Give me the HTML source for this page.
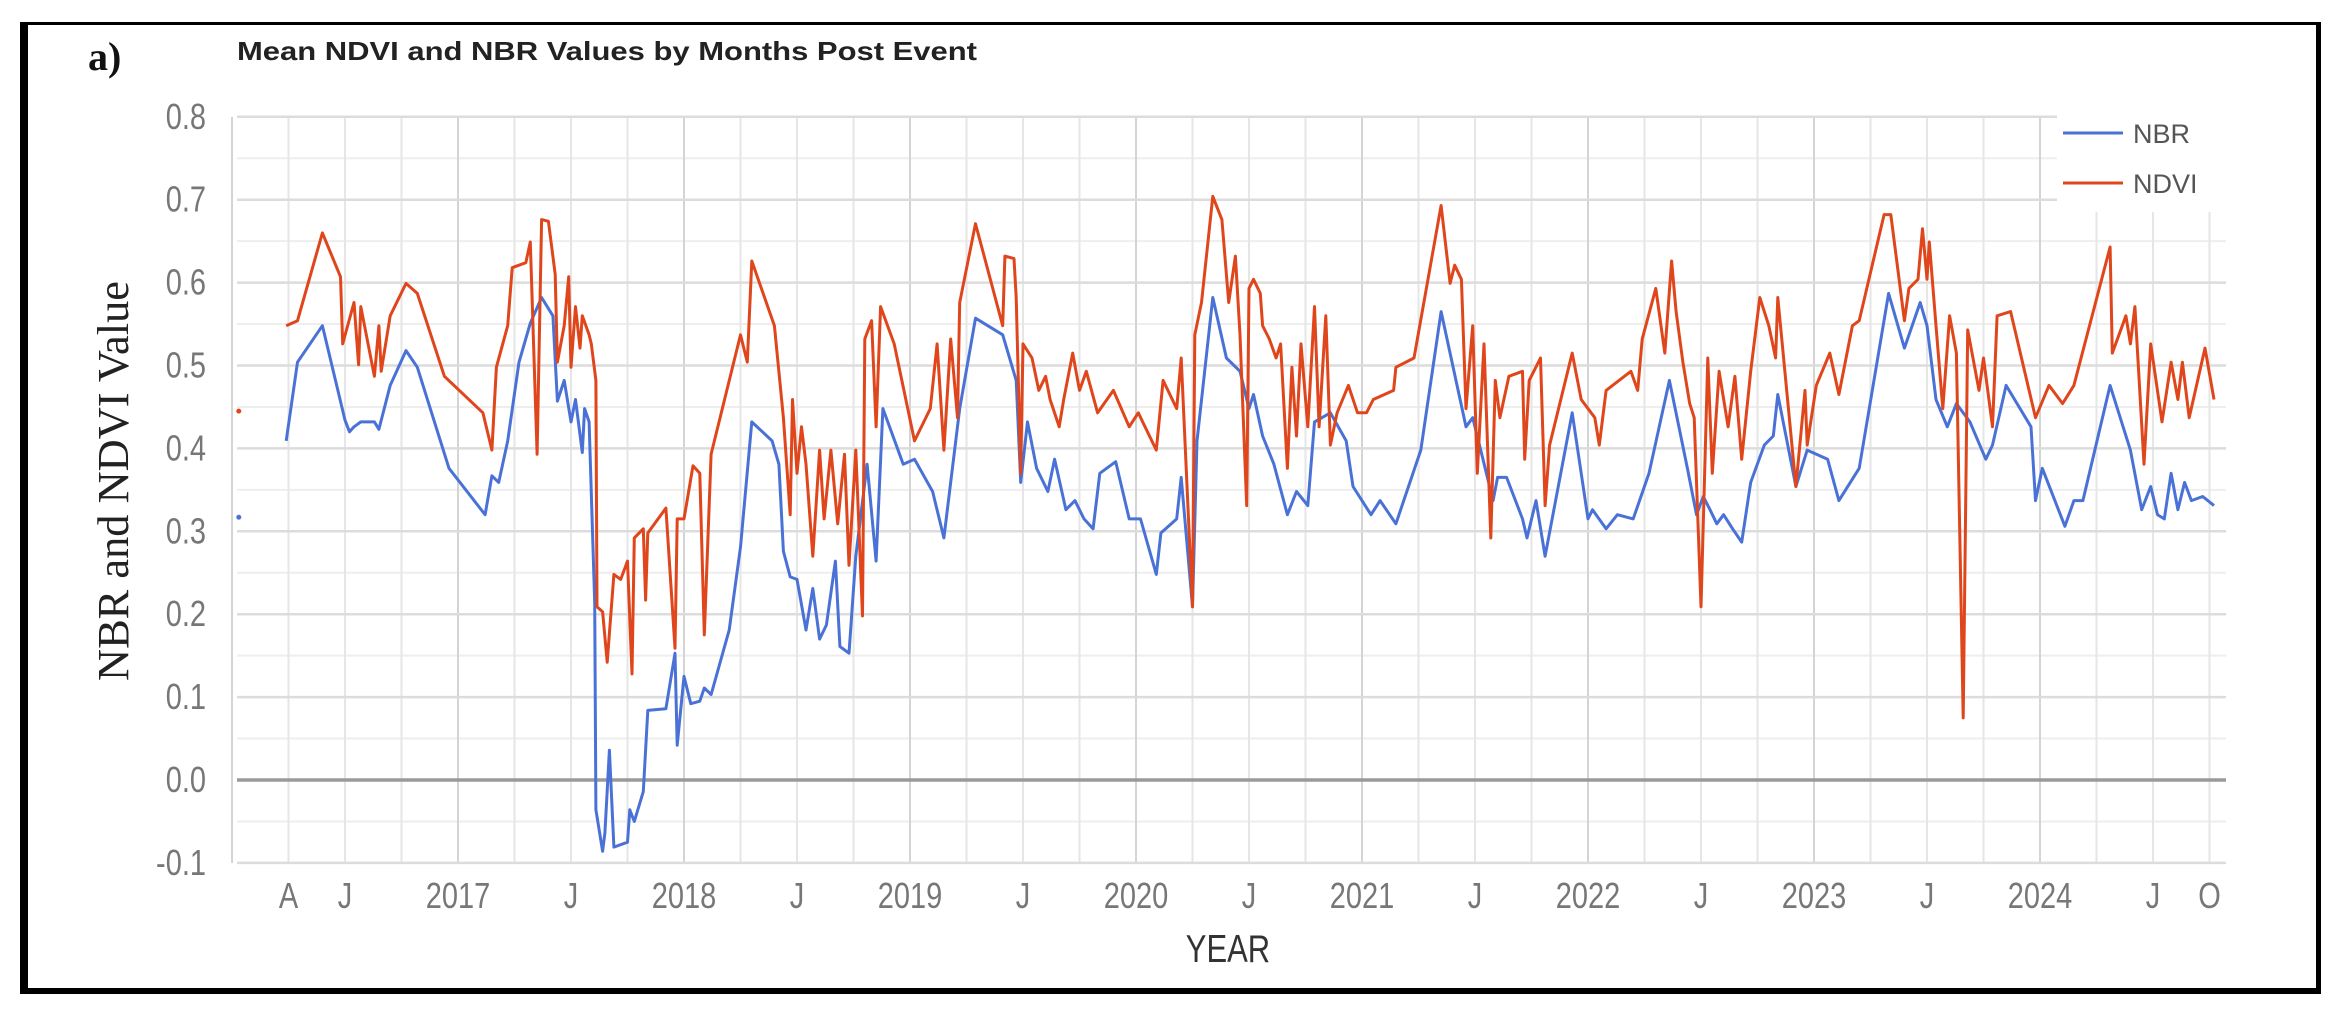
<!DOCTYPE html>
<html><head><meta charset="utf-8"><title>Mean NDVI and NBR Values</title>
<style>
html,body{margin:0;padding:0;background:#fff;}
svg{display:block;}
</style></head>
<body>
<svg id="chart" width="2325" height="1011" viewBox="0 0 2325 1011" xmlns="http://www.w3.org/2000/svg">
  <rect x="0" y="0" width="2325" height="1011" fill="#fff"/>
  <g>
    <rect x="20" y="22" width="2301" height="3" fill="#000"/>
    <rect x="20" y="22" width="8" height="972" fill="#000"/>
    <rect x="2316" y="22" width="5" height="972" fill="#000"/>
    <rect x="20" y="988" width="2301" height="6" fill="#000"/>
  </g>
  <text x="88" y="70" font-family="Liberation Serif, serif" font-weight="bold" font-size="40" fill="#111">a)</text>
  <text x="237" y="60" font-family="Liberation Sans, sans-serif" font-weight="bold" font-size="26" fill="#222" textLength="740" lengthAdjust="spacingAndGlyphs">Mean NDVI and NBR Values by Months Post Event</text>
  <g id="grid"></g>
  <g id="yticks"></g>
  <g id="xticks"></g>
  <g id="series"></g>
  <g>
    <rect x="2057" y="100" width="170" height="112" fill="#fff"/>
    <g>
      <line x1="2063" y1="133" x2="2123" y2="133" stroke="#4a72d6" stroke-width="3"/>
      <text x="2133" y="143" font-family="Liberation Sans, sans-serif" font-size="27" fill="#555">NBR</text>
    </g>
    <g>
      <line x1="2063" y1="183" x2="2123" y2="183" stroke="#e0461c" stroke-width="3"/>
      <text x="2133" y="193" font-family="Liberation Sans, sans-serif" font-size="27" fill="#555">NDVI</text>
    </g>
  </g>
  <text transform="translate(128,481) rotate(-90)" text-anchor="middle" font-family="Liberation Serif, serif" font-size="44" fill="#222" textLength="400" lengthAdjust="spacingAndGlyphs">NBR and NDVI Value</text>
  <text transform="translate(1228,962) scale(1,1.25)" text-anchor="middle" font-family="Liberation Sans, sans-serif" font-size="31" fill="#333">YEAR</text>
</svg>
<script>
// ---- data ----
const yTicks = [-0.1, 0, 0.1, 0.2, 0.3, 0.4, 0.5, 0.6, 0.7, 0.8];
const xTickLabels = ["A","J","2017","J","2018","J","2019","J","2020","J","2021","J","2022","J","2023","J","2024","J","O"];
const xTickDates = [2016.25,2016.5,2017,2017.5,2018,2018.5,2019,2019.5,2020,2020.5,2021,2021.5,2022,2022.5,2023,2023.5,2024,2024.5,2024.75];
const isolatedDates = [2016.03];
const isolatedNDVI = [0.445];
const isolatedNBR = [0.317];
const ndviDates = [2016.24,2016.29,2016.40,2016.48,2016.49,2016.54,2016.56,2016.57,2016.63,2016.65,2016.66,2016.70,2016.77,2016.82,2016.94,2017.11,2017.15,2017.17,2017.22,2017.24,2017.30,2017.32,2017.35,2017.37,2017.40,2017.43,2017.44,2017.47,2017.49,2017.50,2017.52,2017.54,2017.55,2017.58,2017.59,2017.61,2017.615,2017.64,2017.66,2017.69,2017.72,2017.75,2017.77,2017.78,2017.82,2017.83,2017.84,2017.92,2017.96,2017.97,2018.00,2018.04,2018.07,2018.09,2018.12,2018.25,2018.28,2018.30,2018.40,2018.44,2018.47,2018.48,2018.50,2018.52,2018.54,2018.57,2018.60,2018.62,2018.65,2018.68,2018.71,2018.73,2018.76,2018.79,2018.80,2018.83,2018.85,2018.87,2018.93,2019.02,2019.09,2019.12,2019.15,2019.18,2019.21,2019.22,2019.29,2019.41,2019.42,2019.46,2019.47,2019.49,2019.50,2019.54,2019.57,2019.60,2019.62,2019.66,2019.68,2019.72,2019.75,2019.78,2019.83,2019.90,2019.97,2020.01,2020.09,2020.12,2020.18,2020.20,2020.25,2020.26,2020.29,2020.34,2020.38,2020.41,2020.44,2020.46,2020.49,2020.50,2020.52,2020.55,2020.56,2020.59,2020.62,2020.64,2020.67,2020.69,2020.71,2020.73,2020.76,2020.79,2020.81,2020.84,2020.86,2020.89,2020.94,2020.98,2021.02,2021.05,2021.14,2021.15,2021.23,2021.35,2021.39,2021.41,2021.44,2021.46,2021.49,2021.51,2021.54,2021.57,2021.59,2021.61,2021.65,2021.71,2021.72,2021.74,2021.79,2021.81,2021.83,2021.93,2021.97,2022.03,2022.05,2022.08,2022.19,2022.22,2022.24,2022.30,2022.34,2022.37,2022.39,2022.42,2022.45,2022.47,2022.50,2022.53,2022.55,2022.58,2022.62,2022.65,2022.68,2022.72,2022.76,2022.80,2022.83,2022.84,2022.92,2022.96,2022.97,2023.01,2023.07,2023.11,2023.17,2023.20,2023.31,2023.34,2023.40,2023.42,2023.46,2023.48,2023.50,2023.51,2023.54,2023.57,2023.60,2023.63,2023.66,2023.68,2023.73,2023.75,2023.79,2023.81,2023.87,2023.98,2024.04,2024.10,2024.15,2024.31,2024.32,2024.38,2024.40,2024.42,2024.46,2024.49,2024.54,2024.58,2024.61,2024.63,2024.66,2024.73,2024.77];
const ndviValues = [0.548,0.554,0.66,0.607,0.526,0.576,0.501,0.571,0.487,0.548,0.493,0.56,0.599,0.587,0.487,0.443,0.398,0.498,0.548,0.618,0.624,0.649,0.393,0.676,0.674,0.61,0.504,0.548,0.607,0.498,0.571,0.521,0.56,0.537,0.526,0.482,0.209,0.203,0.142,0.248,0.242,0.264,0.128,0.292,0.303,0.217,0.298,0.328,0.159,0.315,0.315,0.379,0.37,0.175,0.393,0.537,0.504,0.626,0.548,0.437,0.32,0.459,0.37,0.426,0.381,0.27,0.398,0.315,0.398,0.309,0.393,0.259,0.398,0.198,0.532,0.554,0.426,0.571,0.526,0.409,0.448,0.526,0.398,0.532,0.437,0.576,0.671,0.548,0.632,0.629,0.582,0.37,0.526,0.509,0.47,0.487,0.459,0.426,0.459,0.515,0.47,0.493,0.443,0.47,0.426,0.443,0.398,0.482,0.448,0.509,0.209,0.537,0.576,0.704,0.676,0.576,0.632,0.537,0.331,0.593,0.604,0.587,0.548,0.532,0.509,0.526,0.376,0.498,0.415,0.526,0.426,0.571,0.426,0.56,0.404,0.443,0.476,0.443,0.443,0.459,0.47,0.498,0.509,0.693,0.599,0.621,0.604,0.448,0.548,0.37,0.526,0.292,0.482,0.437,0.487,0.493,0.387,0.482,0.509,0.331,0.404,0.515,0.459,0.437,0.404,0.47,0.493,0.47,0.532,0.593,0.515,0.626,0.565,0.504,0.454,0.437,0.209,0.509,0.37,0.493,0.426,0.487,0.387,0.493,0.582,0.548,0.509,0.582,0.354,0.47,0.404,0.476,0.515,0.465,0.548,0.554,0.682,0.682,0.554,0.593,0.604,0.665,0.604,0.649,0.548,0.448,0.56,0.515,0.075,0.543,0.47,0.509,0.426,0.56,0.565,0.437,0.476,0.454,0.476,0.643,0.515,0.56,0.526,0.571,0.381,0.526,0.432,0.504,0.459,0.504,0.437,0.521,0.459];
const nbrDates = [2016.24,2016.29,2016.40,2016.50,2016.52,2016.54,2016.57,2016.63,2016.65,2016.70,2016.77,2016.82,2016.96,2017.12,2017.15,2017.18,2017.22,2017.27,2017.32,2017.37,2017.42,2017.44,2017.47,2017.50,2017.52,2017.55,2017.56,2017.58,2017.605,2017.61,2017.64,2017.65,2017.67,2017.69,2017.75,2017.76,2017.78,2017.82,2017.84,2017.92,2017.96,2017.97,2018.00,2018.03,2018.07,2018.09,2018.12,2018.20,2018.25,2018.30,2018.39,2018.42,2018.44,2018.47,2018.50,2018.54,2018.57,2018.60,2018.63,2018.67,2018.69,2018.73,2018.76,2018.81,2018.85,2018.88,2018.97,2019.02,2019.10,2019.15,2019.22,2019.29,2019.41,2019.47,2019.49,2019.52,2019.56,2019.61,2019.64,2019.69,2019.73,2019.77,2019.81,2019.84,2019.91,2019.97,2020.02,2020.09,2020.11,2020.18,2020.20,2020.25,2020.27,2020.34,2020.40,2020.46,2020.50,2020.52,2020.56,2020.61,2020.67,2020.71,2020.76,2020.79,2020.86,2020.93,2020.96,2021.04,2021.08,2021.15,2021.26,2021.35,2021.46,2021.49,2021.52,2021.58,2021.60,2021.64,2021.71,2021.73,2021.77,2021.81,2021.93,2022.00,2022.02,2022.08,2022.13,2022.20,2022.27,2022.36,2022.44,2022.48,2022.51,2022.54,2022.57,2022.60,2022.64,2022.68,2022.72,2022.78,2022.82,2022.84,2022.92,2022.97,2023.06,2023.11,2023.20,2023.33,2023.40,2023.47,2023.50,2023.54,2023.59,2023.63,2023.69,2023.76,2023.79,2023.85,2023.96,2023.98,2024.01,2024.11,2024.15,2024.19,2024.31,2024.40,2024.45,2024.49,2024.52,2024.55,2024.58,2024.61,2024.64,2024.67,2024.72,2024.77];
const nbrValues = [0.409,0.504,0.548,0.434,0.42,0.426,0.432,0.432,0.423,0.476,0.518,0.498,0.376,0.32,0.367,0.359,0.409,0.504,0.551,0.582,0.56,0.457,0.482,0.432,0.459,0.395,0.448,0.432,0.214,-0.036,-0.086,-0.064,0.036,-0.081,-0.075,-0.036,-0.05,-0.014,0.084,0.086,0.153,0.042,0.125,0.092,0.095,0.111,0.103,0.181,0.281,0.432,0.409,0.381,0.276,0.245,0.242,0.181,0.231,0.17,0.187,0.264,0.161,0.153,0.27,0.381,0.264,0.448,0.381,0.387,0.348,0.292,0.448,0.557,0.537,0.482,0.359,0.432,0.376,0.348,0.387,0.326,0.337,0.315,0.303,0.37,0.384,0.315,0.315,0.248,0.298,0.315,0.365,0.209,0.409,0.582,0.509,0.493,0.448,0.465,0.415,0.381,0.32,0.348,0.331,0.432,0.443,0.409,0.354,0.32,0.337,0.309,0.398,0.565,0.426,0.437,0.404,0.337,0.365,0.365,0.315,0.292,0.337,0.27,0.443,0.315,0.326,0.303,0.32,0.315,0.37,0.482,0.376,0.32,0.342,0.326,0.309,0.32,0.303,0.287,0.359,0.404,0.415,0.465,0.354,0.398,0.387,0.337,0.376,0.587,0.521,0.576,0.548,0.459,0.426,0.454,0.432,0.387,0.404,0.476,0.426,0.337,0.376,0.306,0.337,0.337,0.476,0.398,0.326,0.354,0.32,0.315,0.37,0.326,0.359,0.337,0.342,0.331];

// ---- axes ----
const NS = "http://www.w3.org/2000/svg";
const PL = 237, PR = 2226, PT = 117, PB = 863;
function xScale(t){ return 458 + (t - 2017) * 226; }
function yScale(v){ return 780 - v * 829; }
function mk(tag, attrs, parent){
  const el = document.createElementNS(NS, tag);
  for (const k in attrs) el.setAttribute(k, attrs[k]);
  parent.appendChild(el);
  return el;
}
const grid = document.getElementById('grid');
// minor horizontal lines
for (let i = 0; i < yTicks.length - 1; i++) {
  const v = (yTicks[i] + yTicks[i+1]) / 2;
  const ln = mk('line', {x1: PL, x2: PR, y1: yScale(v), y2: yScale(v), stroke: '#eeeeee', 'stroke-width': 2}, grid);
  
  
}
// vertical quarterly lines
for (let q = 2016.0; q <= 2024.76; q += 0.25) {
  const yr = Math.abs(q - Math.round(q)) < 1e-6;
  const ln = mk('line', {x1: xScale(q), x2: xScale(q), y1: PT, y2: PB, stroke: yr ? '#d4d4d4' : '#e6e6e6', 'stroke-width': 2}, grid);
  
  
}
const yt = document.getElementById('yticks');
yTicks.forEach(v => {
  if (v !== 0) {
    const ln = mk('line', {x1: PL, x2: PR, y1: yScale(v), y2: yScale(v), stroke: '#dcdcdc', 'stroke-width': 2.5}, grid);
    
    
  }
  const tx = mk('text', {x: 0, y: 0, 'text-anchor': 'end', 'font-family': 'Liberation Sans, sans-serif', 'font-size': 29, fill: '#777', transform: 'translate(206,' + (yScale(v) + 12) + ') scale(1,1.25)'}, yt);
  tx.textContent = v.toFixed(1);
  
  
});
const zl = mk('line', {x1: PL, x2: PR, y1: yScale(0), y2: yScale(0), stroke: '#9a9a9a', 'stroke-width': 3.5}, grid);



const xt = document.getElementById('xticks');
xTickLabels.forEach((lab, i) => {
  const tx = mk('text', {x: 0, y: 0, 'text-anchor': 'middle', 'font-family': 'Liberation Sans, sans-serif', 'font-size': 29, fill: '#777', transform: 'translate(' + xScale(xTickDates[i]) + ',908) scale(1,1.25)'}, xt);
  tx.textContent = lab;
  
  
});

// ---- series ----
const sg = document.getElementById('series');
function pathFor(dates, vals){
  return dates.map((t, i) => (i ? 'L' : 'M') + xScale(t).toFixed(1) + ' ' + yScale(vals[i]).toFixed(1)).join(' ');
}
const pNbr = mk('path', {d: pathFor(nbrDates, nbrValues), fill: 'none', stroke: '#4a72d6', 'stroke-width': 3, 'stroke-linejoin': 'round'}, sg);


const pNdvi = mk('path', {d: pathFor(ndviDates, ndviValues), fill: 'none', stroke: '#e0461c', 'stroke-width': 3, 'stroke-linejoin': 'round'}, sg);


isolatedDates.forEach((t, i) => {
  const a = mk('circle', {cx: xScale(t), cy: yScale(isolatedNDVI[i]), r: 2.5, fill: '#e0461c'}, sg);
  
  
  const b = mk('circle', {cx: xScale(t), cy: yScale(isolatedNBR[i]), r: 2.5, fill: '#4a72d6'}, sg);
  
  
});
</script>
</body></html>
